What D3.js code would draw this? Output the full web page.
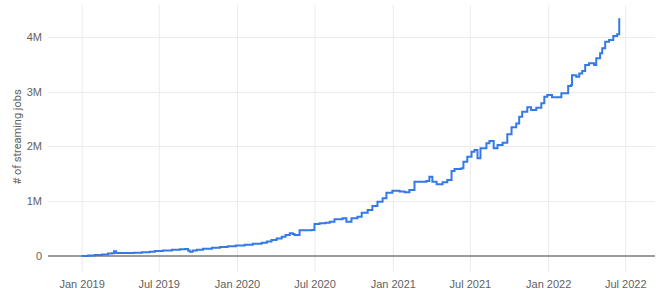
<!DOCTYPE html>
<html><head><meta charset="utf-8">
<script src="https://cdn.jsdelivr.net/npm/d3@7"></script>
<style>
html,body{margin:0;padding:0;background:#fff;}
svg{display:block;font-family:Roboto, "Noto Sans", sans-serif;}
</style></head>
<body><svg id="c" width="665" height="302"></svg>
<script>
const dates = ["2019-01-01","2019-01-16","2019-02-01","2019-02-18","2019-03-04","2019-03-13","2019-03-18","2019-03-23","2019-04-13","2019-05-04","2019-05-23","2019-06-10","2019-06-22","2019-07-11","2019-08-01","2019-08-20","2019-09-01","2019-09-08","2019-09-12","2019-09-19","2019-09-29","2019-10-13","2019-11-03","2019-11-22","2019-12-10","2019-12-29","2020-01-19","2020-02-07","2020-02-28","2020-03-11","2020-03-22","2020-04-03","2020-04-15","2020-04-24","2020-05-04","2020-05-11","2020-05-15","2020-05-27","2020-06-10","2020-06-24","2020-07-01","2020-07-13","2020-07-27","2020-08-06","2020-08-17","2020-09-05","2020-09-14","2020-09-26","2020-10-10","2020-10-20","2020-11-03","2020-11-14","2020-11-26","2020-12-08","2020-12-17","2020-12-31","2021-01-17","2021-01-29","2021-02-09","2021-02-21","2021-03-07","2021-03-21","2021-03-28","2021-04-04","2021-04-14","2021-04-28","2021-05-09","2021-05-19","2021-05-26","2021-06-11","2021-06-16","2021-06-25","2021-07-05","2021-07-12","2021-07-19","2021-07-26","2021-08-09","2021-08-16","2021-08-26","2021-09-04","2021-09-16","2021-09-27","2021-10-07","2021-10-18","2021-10-25","2021-11-01","2021-11-13","2021-11-22","2021-12-04","2021-12-16","2021-12-23","2021-12-30","2022-01-10","2022-01-22","2022-02-01","2022-02-12","2022-02-17","2022-02-24","2022-02-26","2022-03-08","2022-03-15","2022-03-22","2022-03-29","2022-04-07","2022-04-19","2022-04-24","2022-05-03","2022-05-08","2022-05-15","2022-05-24","2022-06-03","2022-06-12","2022-06-17"];
const jobs = [0,10000,20000,30000,45000,50000,85000,55000,55000,62000,68000,78000,90000,99000,115000,124000,128000,100000,78000,100000,115000,133000,151000,164000,177000,190000,206000,223000,243000,265000,292000,319000,352000,383000,414000,400000,383000,469000,469000,474000,584000,597000,608000,626000,670000,688000,626000,688000,717000,790000,839000,912000,991000,1053000,1155000,1192000,1177000,1162000,1204000,1356000,1356000,1369000,1447000,1356000,1308000,1345000,1387000,1551000,1588000,1600000,1721000,1812000,1903000,1934000,1783000,1965000,2057000,2099000,1965000,2026000,2068000,2221000,2349000,2420000,2542000,2633000,2714000,2664000,2706000,2786000,2907000,2938000,2896000,2896000,2969000,2969000,3102000,3120000,3300000,3270000,3330000,3376000,3485000,3516000,3485000,3608000,3699000,3790000,3910000,3942000,4015000,4046000,4337000];
const yTicks = [0,1000000,2000000,3000000,4000000];
const yTickLabels = ["0","1M","2M","3M","4M"];
const xTicks = ["2019-01-01","2019-07-01","2020-01-01","2020-07-01","2021-01-01","2021-07-01","2022-01-01","2022-07-01"];
const xTickLabels = ["Jan 2019","Jul 2019","Jan 2020","Jul 2020","Jan 2021","Jul 2021","Jan 2022","Jul 2022"];
const yTitle = "# of streaming jobs";

const parse = d3.utcParse("%Y-%m-%d");
const data = dates.map((d,i)=>({date:parse(d), v:jobs[i]}));

const svg = d3.select("#c");
const L=48, R=655, T=5, B=270;
const x = d3.scaleUtc().domain([parse("2018-10-14"), parse("2022-09-09")]).range([L,R]);
const y = d3.scaleLinear().domain([-255000, 4580000]).range([B,T]);

const gridColor = "#ebebeb";
const textColor = "#616161";
// vertical grid
svg.append("g").selectAll("line").data(xTicks).join("line")
  .attr("x1",d=>x(parse(d))+0.5).attr("x2",d=>x(parse(d))+0.5)
  .attr("y1",T).attr("y2",B+2)
  .attr("stroke",gridColor).attr("stroke-width",1);
// horizontal grid
svg.append("g").selectAll("line").data(yTicks.filter(t=>t>0)).join("line")
  .attr("x1",L).attr("x2",R)
  .attr("y1",d=>Math.round(y(d))+0.5).attr("y2",d=>Math.round(y(d))+0.5)
  .attr("stroke",gridColor).attr("stroke-width",1);

// y axis labels
const yAxis = d3.axisLeft(y).tickValues(yTicks).tickFormat((d,i)=>yTickLabels[i]).tickSize(0).tickPadding(6);
const ya = svg.append("g").attr("transform",`translate(${L},0)`).call(yAxis);
ya.select(".domain").remove();
ya.selectAll("text").attr("fill",textColor).style("font-size","11px");

// x axis labels
const xAxis = d3.axisBottom(x).tickValues(xTicks.map(parse)).tickFormat((d,i)=>xTickLabels[i]).tickSize(0).tickPadding(10);
const xa = svg.append("g").attr("transform",`translate(0,${B})`).call(xAxis);
xa.select(".domain").remove();
xa.selectAll("text").attr("fill",textColor).style("font-size","11px");

// zero baseline
svg.append("line").attr("x1",L).attr("x2",R)
  .attr("y1",y(0)).attr("y2",y(0))
  .attr("stroke","#7a7a7a").attr("stroke-width",1.5);

// line
const line = d3.line().x(d=>x(d.date)).y(d=>y(d.v)).curve(d3.curveStepAfter);
svg.append("path").datum(data).attr("d",line)
  .attr("fill","none").attr("stroke","#3479e6").attr("stroke-width",2)
  .attr("stroke-linejoin","miter");

// y title
svg.append("text").attr("transform",`translate(21,137) rotate(-90)`)
  .attr("text-anchor","middle").attr("fill",textColor).style("font-size","11px")
  .text(yTitle);
</script></body></html>
